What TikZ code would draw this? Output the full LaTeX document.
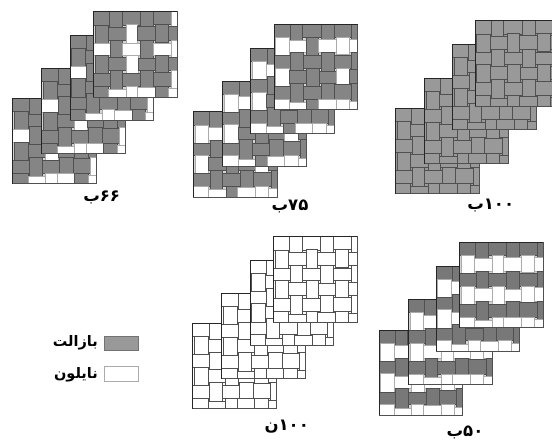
\documentclass[tikz,border=0pt]{standalone}
\usepackage{fontspec}
\newfontfamily\arabicfont[Script=Arabic]{DejaVu Sans}
\TeXXeTstate=1
\definecolor{basaltA}{HTML}{999999}
\definecolor{basaltB}{HTML}{858585}
\definecolor{basaltC}{HTML}{787878}
\definecolor{edgeD}{HTML}{505050}
\definecolor{edgeL}{HTML}{ABABAB}
\definecolor{gapL}{HTML}{D4D4D4}
\tikzset{
  tilebox/.style={line width=.55pt},
  sheetrim/.style={draw=edgeD,line width=.8pt},
  sheetcap/.style={draw=black!85,line width=.9pt},
  lbl/.style={font=\arabicfont\bfseries\fontsize{16.5}{18}\selectfont,inner sep=0pt,text=black},
  leglbl/.style={font=\arabicfont\bfseries\fontsize{14.5}{16}\selectfont,inner sep=0pt,text=black},
  swatch/.style={minimum width=34.5pt,minimum height=14.7pt,inner sep=0pt,line width=.8pt}
}
% #1,#2 sheet origin, #3 pattern array, #4 basalt colour, #5 nylon edge, #6 gap colour
\newcommand{\tilesheet}[6]{%
  \begin{scope}[shift={(#1,#2)},x=.335pt,y=-.335pt]
    \fill[#6] (0,0) rectangle (250,255);
    \foreach \xa/\ya/\xb/\yb [count=\ii from 0] in {
      0/0/48/40,48/0/85/47,85/0/140/40,140/0/180/45,180/0/232/38,232/0/250/45,
      5/40/45/93,45/47/97/85,97/38/132/93,132/45/185/85,185/38/225/90,225/45/250/85,
      0/93/50/130,50/85/87/137,87/93/140/130,140/85/180/140,180/93/232/130,232/85/250/135,
      5/130/45/185,45/137/97/175,97/130/135/185,135/140/185/175,185/130/225/180,225/135/250/175,
      0/185/50/223,50/175/87/233,87/185/140/223,140/175/180/225,180/180/232/223,232/175/250/230,
      0/223/45/255,45/233/97/255,97/223/132/255,132/225/185/255,185/223/225/255,225/230/250/255}{
      \pgfmathtruncatemacro{\vv}{#3[\ii]}
      \ifnum\vv=1
        \draw[tilebox,draw=edgeD,fill=#4] (\xa,\ya) rectangle (\xb,\yb);
      \else
        \draw[tilebox,draw=#5,fill=white] (\xa,\ya) rectangle (\xb,\yb);
      \fi
    }
    \draw[sheetrim] (0,0) rectangle (250,255);
    \draw[sheetcap] (0,255) -- (0,0) -- (250,0);
  \end{scope}}
\def\patAll{{1,1,1,1,1,1, 1,1,1,1,1,1, 1,1,1,1,1,1, 1,1,1,1,1,1, 1,1,1,1,1,1, 1,1,1,1,1,1}}
\def\patNone{{0,0,0,0,0,0, 0,0,0,0,0,0, 0,0,0,0,0,0, 0,0,0,0,0,0, 0,0,0,0,0,0, 0,0,0,0,0,0}}
\def\patSix{{1,1,1,1,1,0, 1,1,0,1,1,1, 0,1,0,1,0,0, 1,1,0,1,1,1, 1,1,1,1,1,0, 1,0,0,0,1,0}}
\def\patSev{{1,1,1,1,1,1, 0,0,1,0,0,0, 1,1,1,1,1,1, 0,1,1,1,0,1, 1,1,1,1,1,1, 0,0,1,0,0,0}}
\def\patFif{{1,1,1,1,1,1, 0,0,0,0,0,0, 1,1,1,1,1,1, 0,0,0,0,0,0, 1,1,1,1,1,1, 0,0,0,0,0,0}}
\newcommand{\stack}[9]{%
  \tilesheet{#1}{#2}{#9}{\basaltcol}{\nyedge}{\gapcol}%
  \tilesheet{#3}{#4}{#9}{\basaltcol}{\nyedge}{\gapcol}%
  \tilesheet{#5}{#6}{#9}{\basaltcol}{\nyedge}{\gapcol}%
  \tilesheet{#7}{#8}{#9}{\basaltcol}{\nyedge}{\gapcol}}
\begin{document}
\begin{tikzpicture}[x=1pt,y=-1pt]
  \useasboundingbox (0,0) rectangle (552,441);
  \clip (0,0) rectangle (552,441);
  \fill[white] (0,0) rectangle (552,441);
  % 66
  \def\basaltcol{basaltB}\def\nyedge{edgeL}\def\gapcol{gapL}
  \stack{12.7}{98.3}{41.7}{68.3}{70}{35}{93.3}{11.7}{\patSix}
  % 75
  \stack{193.3}{111.7}{222.7}{81}{250.7}{48.3}{274}{24.3}{\patSev}
  % 100 basalt
  \def\basaltcol{basaltA}\def\nyedge{edgeD}\def\gapcol{basaltA}
  \stack{395.3}{108.3}{424.3}{78.3}{452.3}{44.3}{475}{20.7}{\patAll}
  % 100 nylon
  \def\basaltcol{basaltA}\def\nyedge{edgeD}\def\gapcol{white}
  \stack{192.7}{323.3}{221.7}{293.3}{250}{260}{273.3}{236.7}{\patNone}
  % 50
  \def\basaltcol{basaltC}\def\nyedge{edgeL}\def\gapcol{gapL}
  \stack{379}{330}{408.3}{299.3}{436}{266}{459.3}{242.3}{\patFif}
  % panel labels
  \node[lbl] (l66) at (101.7,197) {\beginR\beginL ۶۶\endL ب\endR};
  \node[lbl] (l75) at (290,206) {\beginR\beginL ۷۵\endL ب\endR};
  \node[lbl] (l100b) at (490.7,205) {\beginR\beginL ۱۰۰\endL ب\endR};
  \node[lbl] (l100n) at (286.7,427) {\beginR\beginL ۱۰۰\endL ن\endR};
  \node[lbl] (l50) at (465,432) {\beginR\beginL ۵۰\endL ب\endR};
  % legend
  \node[swatch,draw=edgeD!80,fill=basaltA] (sb) at (121.2,343.3) {};
  \node[swatch,draw=edgeL,fill=white] (sn) at (121.2,374.2) {};
  \node[leglbl,anchor=east] (tb) at (98,343) {\beginR بازالت\endR};
  \node[leglbl,anchor=east] (tn) at (98,375) {\beginR نایلون\endR};
\end{tikzpicture}
\end{document}
